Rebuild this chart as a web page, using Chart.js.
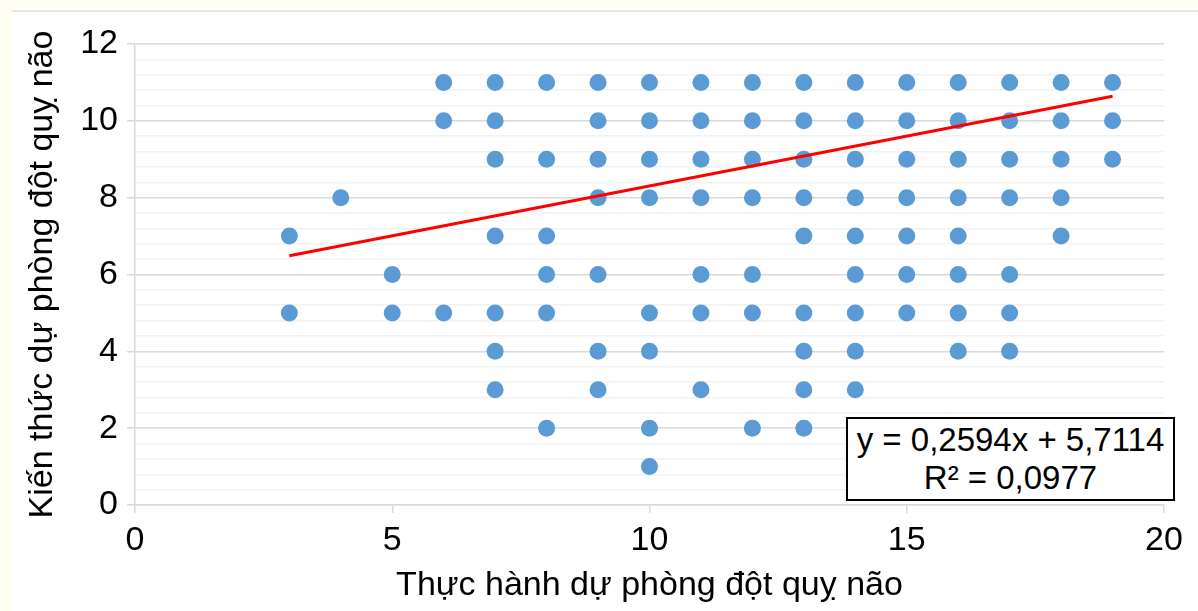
<!DOCTYPE html>
<html lang="vi">

<head>
    <meta charset="UTF-8">
    <title>Kiến thức và thực hành dự phòng đột quỵ não</title>
    <script src="https://cdn.jsdelivr.net/npm/chart.js"></script>
    <style>
        body {
            margin: 0;
            width: 1198px;
            height: 611px;
            background: #FEFEF2;
            font-family: "Liberation Sans", Arial, sans-serif;
            overflow: hidden;
        }

        .khung {
            position: absolute;
            left: 12px;
            top: 10px;
            right: 0;
            bottom: 0;
            background: #fff;
            border-top: 2px solid #E6E6E6;
        }

        #bieudo {
            position: absolute;
            left: 0;
            top: 0;
        }

        .phuongtrinh {
            position: absolute;
            left: 846px;
            top: 417px;
            width: 329px;
            height: 84px;
            box-sizing: border-box;
            border: 2px solid #000;
            background: #fff;
            color: #000;
            font-size: 33px;
            line-height: 38px;
            text-align: center;
            padding-top: 2px;
            white-space: nowrap;
        }
    </style>
</head>

<body>
    <div class="khung"></div>
    <canvas id="bieudo" width="1198" height="611"></canvas>
    <div class="phuongtrinh">y = 0,2594x + 5,7114<br>R² = 0,0977</div>

    <script>
        // Điểm thực hành (trục X) và các điểm kiến thức (trục Y) tương ứng
        const diemThucHanh = [3, 4, 5, 6, 7, 8, 9, 10, 11, 12, 13, 14, 15, 16, 17, 18, 19];
        const diemKienThuc = [
            [7, 5],
            [8],
            [6, 5],
            [11, 10, 5],
            [11, 10, 9, 7, 5, 4, 3],
            [11, 9, 7, 6, 5, 2],
            [11, 10, 9, 8, 6, 4, 3],
            [11, 10, 9, 8, 5, 4, 2, 1],
            [11, 10, 9, 8, 6, 5, 3],
            [11, 10, 9, 8, 6, 5, 2],
            [11, 10, 9, 8, 7, 5, 4, 3, 2],
            [11, 10, 9, 8, 7, 6, 5, 4, 3],
            [11, 10, 9, 8, 7, 6, 5],
            [11, 10, 9, 8, 7, 6, 5, 4],
            [11, 10, 9, 8, 6, 5, 4],
            [11, 10, 9, 8, 7],
            [11, 10, 9]
        ];

        // Đường xu hướng tuyến tính
        const heSoGoc = 0.2594;
        const heSoTuDo = 5.7114;
        const xuHuongX = [3, 19];

        const tieuDeX = 'Thực hành dự phòng đột quỵ não';
        const tieuDeY = 'Kiến thức dự phòng đột quỵ não';

        let diem = [];
        diemThucHanh.forEach((x, i) => {
            diemKienThuc[i].forEach(y => diem.push({ x: x, y: y }));
        });
        const duongXuHuong = xuHuongX.map(x => ({ x: x, y: heSoGoc * x + heSoTuDo }));

        const chu = '"Liberation Sans", Arial, sans-serif';
        const laVachChinh = v => Math.abs(v / 2 - Math.round(v / 2)) < 1e-6;

        const ctx = document.getElementById('bieudo').getContext('2d');
        let bieuDo = new Chart(ctx, {
            type: 'scatter',
            data: {
                datasets: [{
                    label: 'Xu hướng',
                    data: duongXuHuong,
                    showLine: true,
                    borderColor: '#FF0000',
                    borderWidth: 3,
                    pointRadius: 0,
                    pointHoverRadius: 0
                }, {
                    label: 'Kiến thức',
                    data: diem,
                    backgroundColor: '#5B9BD5',
                    borderColor: '#5B9BD5',
                    borderWidth: 0,
                    pointRadius: 8.5,
                    pointHoverRadius: 8.5
                }]
            },
            options: {
                responsive: false,
                animation: false,
                devicePixelRatio: 1,
                layout: {
                    padding: { top: 44, right: 34, bottom: 0, left: 0 }
                },
                plugins: {
                    legend: { display: false },
                    tooltip: { enabled: false }
                },
                scales: {
                    x: {
                        type: 'linear',
                        min: 0,
                        max: 20,
                        ticks: {
                            stepSize: 5,
                            color: '#000',
                            padding: 7,
                            font: { family: chu, size: 34 }
                        },
                        grid: {
                            drawOnChartArea: false,
                            drawTicks: true,
                            tickLength: 8,
                            color: '#D9D9D9',
                            lineWidth: 1.5
                        },
                        border: { color: '#D9D9D9', width: 1.5 },
                        title: {
                            display: true,
                            text: tieuDeX,
                            color: '#000',
                            padding: { top: 0, bottom: 5 },
                            font: { family: chu, size: 34 }
                        },
                        afterFit: s => { s.height = 106; }
                    },
                    y: {
                        min: 0,
                        max: 12,
                        ticks: {
                            stepSize: 0.4,
                            autoSkip: false,
                            color: '#000',
                            padding: 9,
                            font: { family: chu, size: 34 },
                            callback: v => laVachChinh(v) ? String(Math.round(v)) : ''
                        },
                        grid: {
                            drawTicks: true,
                            tickLength: 8,
                            lineWidth: 1.5,
                            color: c => laVachChinh(c.tick.value) ? '#D9D9D9' : '#F2F2F2',
                            tickColor: c => laVachChinh(c.tick.value) ? '#D9D9D9' : 'rgba(0,0,0,0)'
                        },
                        border: { color: '#D9D9D9', width: 1.5 },
                        title: {
                            display: true,
                            text: tieuDeY,
                            color: '#000',
                            padding: { top: 22, bottom: 0 },
                            font: { family: chu, size: 34 }
                        },
                        afterFit: s => { s.width = 135; }
                    }
                }
            }
        });
    </script>
</body>

</html>
